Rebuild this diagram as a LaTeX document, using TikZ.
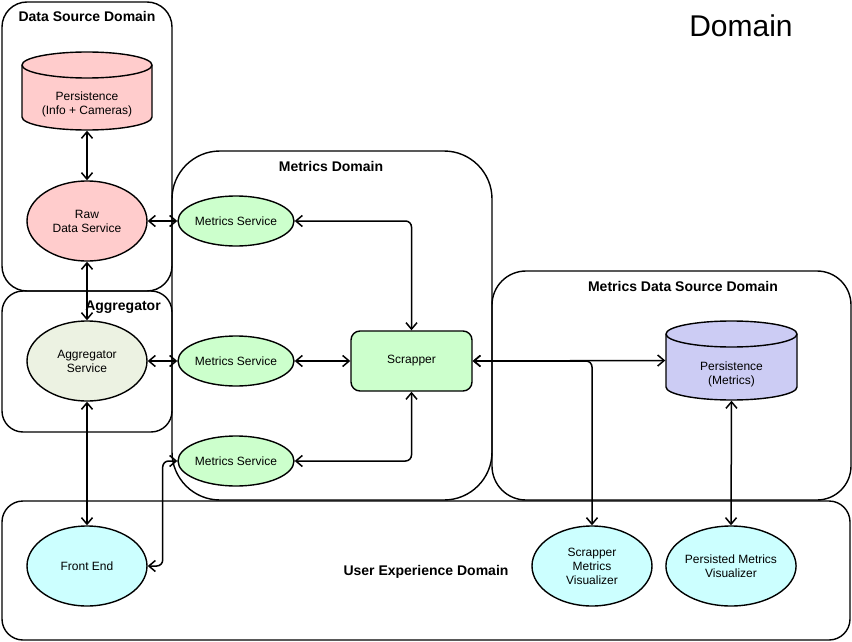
\documentclass[tikz,border=0pt]{standalone}
\usepackage{fontspec}
\setmainfont{Liberation Sans}
\usetikzlibrary{arrows.meta,shapes.geometric}
\definecolor{pinkf}{HTML}{FFCCCC}
\definecolor{greenf}{HTML}{CCFFCC}
\definecolor{aggf}{HTML}{ECF2E2}
\definecolor{bluef}{HTML}{CCCCF4}
\definecolor{cyanf}{HTML}{CCFFFF}
\begin{document}
\begin{tikzpicture}[x=1pt,y=1pt,
  line width=1.4pt,
  every node/.style={font=\fontsize{12}{14}\selectfont, align=center},
  dom/.style={draw, line width=1.4pt},
  ttl/.style={font=\bfseries\fontsize{14}{16}\selectfont},
  ell/.style={draw, ellipse, inner sep=0pt, minimum width=120pt, minimum height=80pt},
  msvc/.style={draw, ellipse, inner sep=0pt, minimum width=90pt, minimum height=50pt, fill=greenf},
  conn/.style={{Straight Barb[length=6.5pt,width=11pt]}-{Straight Barb[length=6.5pt,width=11pt]}, line width=1.5pt, rounded corners=6pt}
]
\useasboundingbox (0,0) rectangle (852,-642);
\fill[white] (0,0) rectangle (852,-642);

% containers
\draw[dom, rounded corners=25pt] (2,-2) rectangle (172,-291);
\draw[dom, rounded corners=21pt] (2,-291) rectangle (172,-432);
\draw[dom, rounded corners=48pt] (172,-151) rectangle (492,-500);
\draw[dom, rounded corners=34pt] (492,-271) rectangle (851,-500);
\draw[dom, rounded corners=21pt] (2,-501) rectangle (850,-640);

\node[ttl] (tdsd) at (87,-16) {Data Source Domain};
\node[ttl] (tagg) at (123,-307) {Aggregator};
\node[ttl] (tmd) at (331,-166) {Metrics Domain};
\node[ttl] (tmdsd) at (683,-286) {Metrics Data Source Domain};
\node[ttl] (tux) at (426,-572) {User Experience Domain};
\node[font=\fontsize{30}{34}\selectfont] (tdom) at (741,-26) {Domain};

% cylinders
\draw[fill=pinkf] (22,-65) -- (22,-117) arc[start angle=180,end angle=360,x radius=65pt,y radius=13pt] -- (152,-65) arc[start angle=0,end angle=180,x radius=65pt,y radius=13pt] -- cycle;
\draw (22,-65) arc[start angle=180,end angle=360,x radius=65pt,y radius=13pt];
\node[minimum width=130pt, minimum height=78pt, inner sep=0pt] (pinfo) at (87,-91) {};
\node at (87,-104) {Persistence\\(Info + Cameras)};

\draw[fill=bluef] (666,-334) -- (666,-387) arc[start angle=180,end angle=360,x radius=65.5pt,y radius=13pt] -- (797,-334) arc[start angle=0,end angle=180,x radius=65.5pt,y radius=13pt] -- cycle;
\draw (666,-334) arc[start angle=180,end angle=360,x radius=65.5pt,y radius=13pt];
\node[minimum width=131pt, minimum height=79pt, inner sep=0pt] (pmet) at (731.5,-360.5) {};
\node at (731.5,-374) {Persistence\\(Metrics)};

% nodes
\node[ell, fill=pinkf] (raw) at (87,-221) {Raw\\Data Service};
\node[ell, fill=aggf] (agg) at (87,-361) {Aggregator\\Service};
\node[msvc] (ms1) at (236,-221) {Metrics Service};
\node[msvc] (ms2) at (236,-361) {Metrics Service};
\node[msvc] (ms3) at (236,-461) {Metrics Service};
\node[draw, fill=greenf, rounded corners=9pt, minimum width=121pt, minimum height=60pt, inner sep=0pt] (scr) at (411.5,-361) {Scrapper};
\node[ell, fill=cyanf] (fe) at (87,-566) {Front End};
\node[ell, fill=cyanf] (smv) at (592,-566) {Scrapper\\Metrics\\Visualizer};
\node[ell, fill=cyanf] (pmv) at (731,-566) {Persisted Metrics\\Visualizer};

% connectors
\draw[conn] (pinfo.south) -- (raw.north);
\draw[conn] (raw.east) -- (ms1.west);
\draw[conn] (ms1.east) -| (scr.north);
\draw[conn] (raw.south) -- (agg.north);
\draw[conn] (agg.east) -- (ms2.west);
\draw[conn] (ms2.east) -- (scr.west);
\draw[conn] (ms3.east) -| (scr.south);
\draw[conn] (agg.south) -- (fe.north);
\draw[conn] (fe.east) -- ++(15,0) |- (ms3.west);
\draw[conn] (scr.east) -- (pmet.west);
\draw[conn] (scr.east) -| (smv.north);
\draw[conn] (pmet.south) -- (pmv.north);
\end{tikzpicture}
\end{document}
